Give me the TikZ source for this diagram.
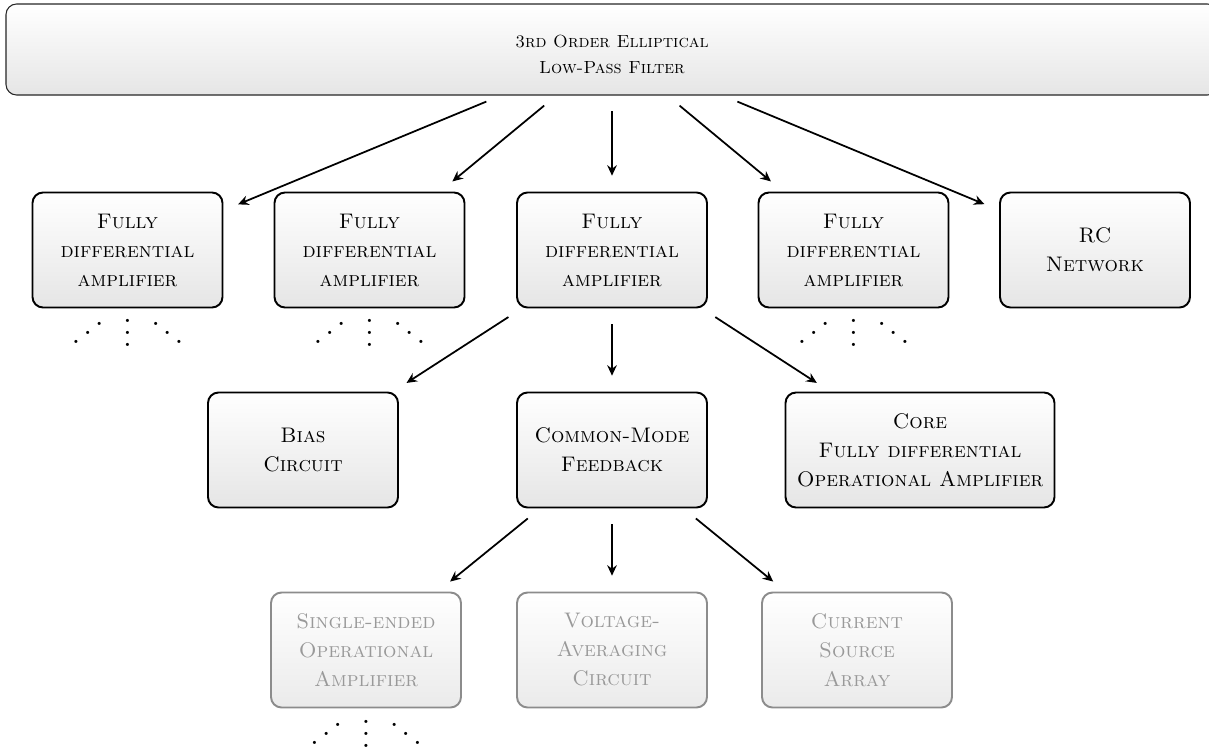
\documentclass[tikz,border=0pt]{standalone}
\usepackage{tikz}
\usetikzlibrary{positioning,arrows.meta}
\usepackage{graphicx}

% rising diagonal dots, the mirror of \ddots
\newcommand{\updots}{\mathinner{\mkern1mu\raise1pt\hbox{.}\mkern2mu\raise4pt\hbox{.}\mkern2mu\raise7pt\vbox{\kern7pt\hbox{.}}\mkern1mu}}
\newcommand{\moredots}{\scalebox{1.7}{$\updots\;\,\vdots\;\,\ddots$}}

\tikzset{
  topbox/.style={draw=black!85,semithick,rounded corners=6pt,top color=white,bottom color=black!10,
    minimum width=24.24cm,minimum height=1.82cm,align=center,font=\scshape\fontsize{10}{15}\selectfont},
  block/.style={draw=black,line width=1.1pt,rounded corners=6pt,top color=white,bottom color=black!10,
    minimum width=3.8cm,minimum height=2.3cm,align=center,font=\scshape\fontsize{12}{16.5}\selectfont},
  faded/.style={block,draw=black!45,text=black!40,bottom color=black!8},
  link/.style={-{Stealth[length=6pt,width=5.5pt,inset=2pt]},line width=1pt,shorten <=9pt,shorten >=9pt},
  more/.style={anchor=base,inner sep=0pt}
}

\begin{document}
\begin{tikzpicture}
\useasboundingbox (0,0) rectangle (24.18,-14.98);

% the strut pushes the two lines a little lower in the box
\node[topbox] (lpf) at (12.24,-0.99) {\rule{0pt}{13pt}3rd Order Elliptical\\Low-Pass Filter};

% first level
\node[block] (fda1) at (2.55,-5) {Fully\\differential\\amplifier};
\node[block] (fda2) at (7.39,-5) {Fully\\differential\\amplifier};
\node[block] (fda3) at (12.24,-5) {Fully\\differential\\amplifier};
\node[block] (fda4) at (17.07,-5) {Fully\\differential\\amplifier};
\node[block] (rc) at (21.9,-5) {RC\\Network};

\node[more] (fda1-more) at (2.55,-6.93) {\moredots};
\node[more] (fda2-more) at (7.39,-6.93) {\moredots};
\node[more] (fda4-more) at (17.07,-6.93) {\moredots};

% inside one amplifier
\node[block] (bias) at (6.06,-9) {Bias\\Circuit};
\node[block] (cmfb) at (12.24,-9) {Common-Mode\\Feedback};
\node[block,minimum width=5.38cm] (core) at (18.4,-9) {Core\\Fully differential\\Operational Amplifier};

% inside the common-mode feedback
\node[faded] (seoa) at (7.32,-13) {Single-ended\\Operational\\Amplifier};
\node[faded] (vavg) at (12.24,-13) {Voltage-\\Averaging\\Circuit};
\node[faded] (isrc) at (17.14,-13) {Current\\Source\\Array};

\node[more] (seoa-more) at (7.32,-14.95) {\moredots};

\foreach \n in {fda1,fda2,fda3,fda4,rc}
  \draw[link] (lpf) -- (\n);
\foreach \n in {bias,cmfb,core}
  \draw[link] (fda3) -- (\n);
\foreach \n in {seoa,vavg,isrc}
  \draw[link] (cmfb) -- (\n);
\end{tikzpicture}
\end{document}
